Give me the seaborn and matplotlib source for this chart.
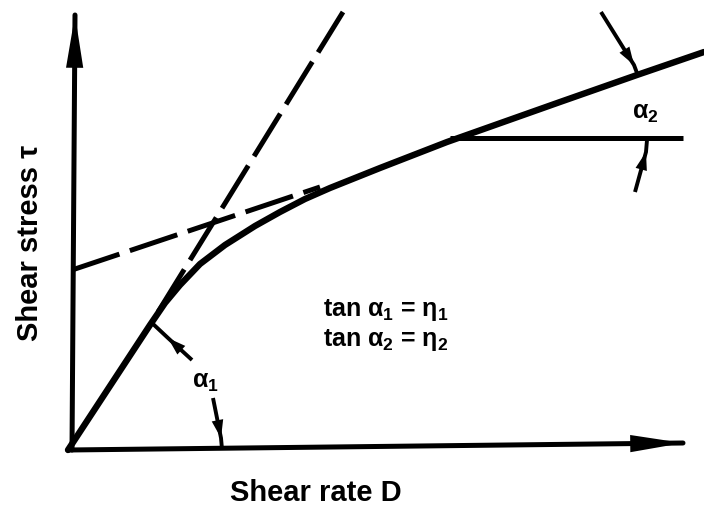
import matplotlib
matplotlib.use("Agg")
import matplotlib.pyplot as plt
import seaborn as sns
import pandas as pd

# ---- data (arbitrary units: D = shear rate, tau = shear stress) ----
curve_D = [0, 82, 97, 112, 132, 157, 187, 212, 237, 262, 312, 379, 492, 569, 636]
curve_tau = [0, 125, 147, 165, 186, 205, 224, 238, 251, 262, 282, 308, 348, 375, 398]

steep_D = [90, 275]
steep_tau = [138, 438]

shallow_D = [4, 252]
shallow_tau = [180, 263]

horiz_D = [382, 615]
horiz_tau = [312, 312]

xaxis_D = [0, 615]
xaxis_tau = [0, 7]
yaxis_D = [4, 7]
yaxis_tau = [0, 435]

xlabel = "Shear rate D"
ylabel = "Shear stress τ"
eq1 = r"tan $\alpha_1$ = $\eta_1$"
eq2 = r"tan $\alpha_2$ = $\eta_2$"
lab_a1 = r"$\alpha_1$"
lab_a2 = r"$\alpha_2$"

sns.set_theme(style="white")
plt.rcParams["font.family"] = ["Liberation Sans", "DejaVu Sans"]
plt.rcParams["text.color"] = "black"
plt.rcParams["mathtext.fontset"] = "custom"
plt.rcParams["mathtext.rm"] = "Liberation Sans:bold"
plt.rcParams["mathtext.it"] = "Liberation Sans:bold"
plt.rcParams["mathtext.bf"] = "Liberation Sans:bold"

fig = plt.figure(figsize=(7.04, 5.08), dpi=100)
ax = fig.add_axes([0, 0, 1, 1])
ax.set_xlim(-68, 636)
ax.set_ylim(-58, 450)
ax.axis("off")

df = pd.DataFrame({"D": curve_D, "tau": curve_tau})
sns.lineplot(data=df, x="D", y="tau", ax=ax, color="black", lw=4.6,
             sort=False, estimator=None, solid_capstyle="round")

# dashed tangents
ax.plot(steep_D, steep_tau, color="black", lw=3.6, dashes=(10, 2.2), dash_capstyle="butt")
ax.plot(shallow_D, shallow_tau, color="black", lw=3.6, dashes=(10, 2.2), dash_capstyle="butt")
# horizontal reference line
ax.plot(horiz_D, horiz_tau, color="black", lw=3.6, solid_capstyle="butt")


def head(tip, back, hl, hw):
    """Filled arrowhead whose tip is exactly at `tip`, pointing away from `back`."""
    ax.annotate("", xy=tip, xytext=back, annotation_clip=False,
                arrowprops=dict(arrowstyle=f"-|>,head_length={hl},head_width={hw}",
                                color="black", lw=0, mutation_scale=1,
                                shrinkA=0, shrinkB=0))


# axes arrows
def axis_arrow(D, tau):
    ax.plot(D, tau, color="black", lw=3.6, solid_capstyle="round")
    head((D[1], tau[1]), (D[0], tau[0]), 38, 6.2)

axis_arrow(xaxis_D, xaxis_tau)
axis_arrow(yaxis_D, yaxis_tau)


# angle arrows: line p0 -> p2 with a head whose tip is at p1
def angle_arrow(p0, p1, p2):
    ax.plot([p0[0], p1[0], p2[0]], [p0[1], p1[1], p2[1]], color="black", lw=2.8,
            solid_capstyle="butt")
    head(p1, p0, 13, 4.2)

angle_arrow((124, 90), (100, 112), (84, 127))
angle_arrow((145, 52), (153, 12), (154, 1))
angle_arrow((533, 438), (566, 385), (569, 377))
angle_arrow((567, 258), (578, 298), (579, 310))

ax.text(137, 68, lab_a1, fontsize=18, ha="center", va="center", color="black")
ax.text(577, 337, lab_a2, fontsize=18, ha="center", va="center", color="black")

ax.text(255, 140, eq1, fontsize=18, ha="left", va="center", fontweight="bold", color="black")
ax.text(255, 110, eq2, fontsize=18, ha="left", va="center", fontweight="bold", color="black")

ax.text(248, -43, xlabel, fontsize=21, ha="center", va="center", fontweight="bold", color="black")
ax.text(-38, 207, ylabel, fontsize=21, ha="center", va="center", fontweight="bold",
        rotation=90, color="black")

fig.savefig("out.png", dpi=100)
